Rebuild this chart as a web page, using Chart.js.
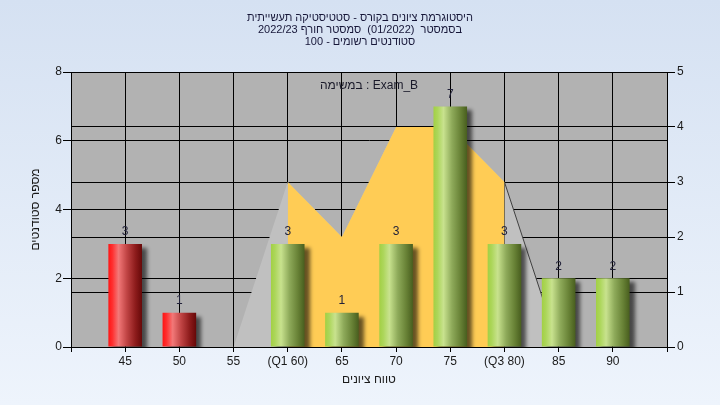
<!DOCTYPE html>
<html><head><meta charset="utf-8">
<script src="https://cdn.jsdelivr.net/npm/chart.js@4"></script>
<style>html,body{margin:0;padding:0;background:#e2ebf7}canvas{display:block}</style>
</head><body>
<canvas id="c" width="720" height="405"></canvas>
<script>
// ---- data ----
const titleLines = ['היסטוגרמת ציונים בקורס - סטטיסטיקה תעשייתית', 'בסמסטר  (01/2022)  סמסטר חורף 2022/23', 'סטודנטים רשומים - 100'];
const taskLabel = 'במשימה : Exam_B';
const xAxisTitle = 'טווח ציונים';
const yAxisTitle = 'מספר סטודנטים';
const grades = [45, 50, 55, 60, 65, 70, 75, 80, 85, 90];
const tickLabels = ['45', '50', '55', '(Q1 60)', '65', '70', '75', '(Q3 80)', '85', '90'];
const studentCounts = [3, 1, 0, 3, 1, 3, 7, 3, 2, 2];
const curveOuter = [null, null, 0, 3, 2, 4, 4, 3, 0, null];
const curveInner = [null, null, null, 3, 2, 4, 4, 3, null, null];
const passGrade = 55;
const leftMax = 8, leftStep = 2;
const rightMax = 5, rightStep = 1;

const pad = arr => [null, ...arr, null];

const FONT = "'Liberation Sans', Arial, 'DejaVu Sans', sans-serif";
Chart.defaults.font.family = FONT;
Chart.defaults.font.size = 12;
Chart.defaults.color = '#1a1a1a';

const barPct = 0.62;
function barFill(c) {
  const chart = c.chart, xs = chart.scales && chart.scales.x;
  const gi = c.dataIndex - 1;
  const red = grades[gi] !== undefined && grades[gi] < passGrade;
  const solid = red ? '#c83030' : '#90b050';
  if (!xs) return solid;
  const cx = xs.getPixelForValue(c.dataIndex);
  const step = xs.getPixelForValue(2) - xs.getPixelForValue(1);
  if (!isFinite(cx) || !isFinite(step) || step <= 0) return solid;
  const half = step * barPct / 2;
  const g = chart.ctx.createLinearGradient(cx - half, 0, cx + half, 0);
  if (red) {
    g.addColorStop(0, '#ff1414'); g.addColorStop(0.12, '#ff3030');
    g.addColorStop(0.3, '#f27878'); g.addColorStop(0.55, '#c04444');
    g.addColorStop(0.8, '#8e1c1c'); g.addColorStop(1, '#660808');
  } else {
    g.addColorStop(0, '#a2d044'); g.addColorStop(0.12, '#acd65a');
    g.addColorStop(0.3, '#c8e28e'); g.addColorStop(0.55, '#8eaa5a');
    g.addColorStop(0.8, '#688236'); g.addColorStop(1, '#485e1e');
  }
  return g;
}

const bgPlugin = {
  id: 'bg',
  beforeDraw(chart) {
    const {ctx, width, height, chartArea: a} = chart;
    ctx.save();
    const g = ctx.createLinearGradient(0, 0, 0, height);
    g.addColorStop(0, '#d5e1f2'); g.addColorStop(1, '#eef4fc');
    ctx.fillStyle = g; ctx.fillRect(0, 0, width, height);
    ctx.fillStyle = '#b2b2b2';
    ctx.fillRect(a.left, a.top, a.right - a.left, a.bottom - a.top);
    ctx.restore();
  }
};
const shadowPlugin = {
  id: 'shadow',
  beforeDatasetDraw(chart, args) {
    if (args.index !== 0) return;
    const ctx = chart.ctx; ctx.save();
    ctx.shadowColor = 'rgba(0,0,0,0.6)'; ctx.shadowBlur = 4;
    ctx.shadowOffsetX = 5; ctx.shadowOffsetY = 4;
  },
  afterDatasetDraw(chart, args) {
    if (args.index !== 0) return;
    chart.ctx.restore();
  }
};
const labelPlugin = {
  id: 'vlabels',
  afterDatasetsDraw(chart) {
    const ctx = chart.ctx, meta = chart.getDatasetMeta(0);
    const data = chart.data.datasets[0].data;
    ctx.save();
    ctx.font = '12px ' + FONT; ctx.fillStyle = '#22223a';
    ctx.textAlign = 'center'; ctx.textBaseline = 'middle';
    meta.data.forEach((el, i) => {
      const v = data[i];
      if (v == null || v === 0) return;
      ctx.fillText(String(v), el.x, el.y - 12);
    });
    const a = chart.chartArea;
    ctx.fillStyle = '#1a1a2a';
    ctx.fillText(taskLabel, (a.left + a.right) / 2, a.top + 14);
    ctx.restore();
  }
};

new Chart(document.getElementById('c'), {
  type: 'bar',
  data: {
    labels: pad(tickLabels).map(v => v === null ? '' : v),
    datasets: [
      { type: 'bar', data: pad(studentCounts), yAxisID: 'y', order: 0,
        backgroundColor: barFill, borderWidth: 0,
        barPercentage: barPct, categoryPercentage: 1 },
      { type: 'line', data: pad(curveInner), yAxisID: 'y2', order: 1,
        backgroundColor: '#ffcc55', borderColor: '#ffcc55', borderWidth: 0,
        fill: 'origin', pointRadius: 0, tension: 0 },
      { type: 'line', data: pad(curveOuter), yAxisID: 'y2', order: 2,
        backgroundColor: '#c0c0c0', borderWidth: 1, fill: 'origin', pointRadius: 0, tension: 0,
        borderColor: 'rgba(0,0,0,0)',
        segment: { borderColor: s => (s.p0DataIndex === 8 ? '#404040' : 'rgba(0,0,0,0)') } }
    ]
  },
  options: {
    responsive: false, animation: false, devicePixelRatio: 1,
    layout: { padding: 0 },
    plugins: {
      legend: { display: false }, tooltip: { enabled: false },
      title: { display: true, text: titleLines, color: '#161638',
        font: { size: 11, weight: 'normal', lineHeight: '12px' },
        padding: { top: 12, bottom: 24 } }
    },
    scales: {
      x: { type: 'category', offset: false,
        grid: { offset: false, color: '#000', tickLength: 5, drawOnChartArea: true },
        border: { color: '#000' },
        ticks: { autoSkip: false, maxRotation: 0, padding: 2, color: '#1a1a1a' },
        title: { display: true, text: xAxisTitle, color: '#1a1a1a', font: { size: 12 },
          padding: { top: 0, bottom: 18 } },
        afterFit: s => { s.height = 58; } },
      y: { position: 'left', min: 0, max: leftMax,
        ticks: { stepSize: leftStep, padding: 1, color: '#1a1a1a' },
        grid: { color: '#000', tickLength: 8 }, border: { color: '#000' },
        title: { display: true, text: yAxisTitle, color: '#1a1a1a', font: { size: 12 },
          padding: { top: 28, bottom: 0 } },
        afterFit: s => { s.width = 71; } },
      y2: { position: 'right', min: 0, max: rightMax,
        ticks: { stepSize: rightStep, padding: 2, color: '#1a1a1a' },
        grid: { color: '#000', tickLength: 8, drawOnChartArea: true }, border: { color: '#000' },
        afterFit: s => { s.width = 53; } }
    }
  },
  plugins: [bgPlugin, shadowPlugin, labelPlugin]
});
</script>
</body></html>
